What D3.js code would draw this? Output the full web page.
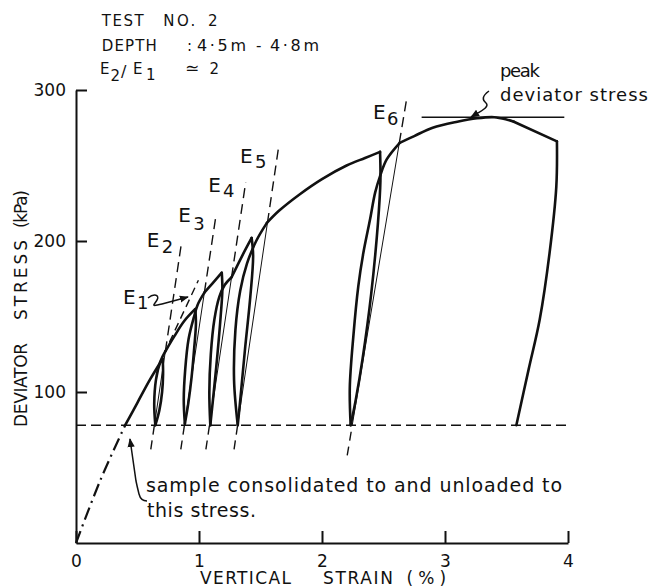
<!DOCTYPE html>
<html><head><meta charset="utf-8">
<script src="https://cdn.jsdelivr.net/npm/d3@7"></script>
<style>
body{margin:0;background:#fff}
svg{display:block}
text{font-family:"DejaVu Sans",sans-serif;fill:#111}
</style>
</head><body>
<svg id="c" width="651" height="587"></svg>
<script>
// ---------- data (strain %, deviator stress kPa) ----------
const xTicks=[0,1,2,3,4];
const yTicks=[100,200,300];
const consolidationStress=78;
const peakStress=282;
const peakLineRange=[2.81,3.97];
const initialCurve=[[0,0],[0.2,42],[0.40,78]];
const env0=[[0.40,78],[0.50,93],[0.60,108],[0.705,122]];
const unload1=[[0.705,122],[0.708,112],[0.70,100],[0.678,88],[0.645,78]];
const reload1=[[0.645,78],[0.636,92],[0.65,108],[0.685,120],[0.727,127]];
const env1=[[0.727,127],[0.80,137],[0.88,147],[0.97,155]];
const unload2=[[0.97,155],[0.975,145],[0.962,130],[0.94,110],[0.912,92],[0.885,79]];
const reload2=[[0.885,79],[0.876,95],[0.888,115],[0.915,135],[0.96,150],[0.99,158],[1.045,166]];
const env2=[[1.045,166],[1.11,172],[1.185,179]];
const unload3=[[1.185,179],[1.19,168],[1.176,150],[1.15,125],[1.12,100],[1.092,78]];
const reload3=[[1.092,78],[1.084,100],[1.096,125],[1.125,148],[1.165,163],[1.21,171],[1.265,176]];
const env3=[[1.265,176],[1.35,190],[1.428,202]];
const unload4=[[1.428,202],[1.44,190],[1.417,163],[1.376,130],[1.338,97],[1.315,78]];
const reload4=[[1.315,78],[1.285,108],[1.296,141],[1.335,167],[1.39,185],[1.465,200],[1.552,212]];
const env4=[[1.552,212],[1.65,220],[1.82,231],[2.0,241],[2.2,250],[2.35,255],[2.472,259]];
const unload5=[[2.472,259],[2.475,240],[2.455,212],[2.40,165],[2.33,122],[2.275,95],[2.233,78]];
const reload5=[[2.233,78],[2.226,103],[2.255,137],[2.295,170],[2.336,192],[2.39,214],[2.432,232],[2.472,243],[2.526,254],[2.632,265]];
const env5=[[2.632,265],[2.75,269.5],[2.90,275],[3.10,279],[3.26,281.3],[3.40,282],[3.50,280.5],[3.56,279]];
const env5b=[[3.56,279],[3.91,266]];
const finalUnload=[[3.91,266],[3.905,236],[3.85,192],[3.77,148],[3.68,115],[3.58,78]];
// secant (modulus) lines: bottom end, top end; loop bottom / rejoin stresses
const secantE1=[[0.76,133],[0.995,174]];
const secantE2=[[0.608,62],[0.858,199]];
const secantE3=[[0.852,62],[1.14,218]];
const secantE4=[[1.056,62],[1.38,239]];
const secantE5=[[1.285,62],[1.645,261]];
const secantE6=[[2.205,58],[2.69,295]];
const secantLoopStress=[[78,127],[79,166],[78,176],[78,212],[78,265]];

// ---------- drawing ----------
const svg=d3.select("#c");
const x=d3.scaleLinear().domain([0,4]).range([76,568]);
const y=d3.scaleLinear().domain([0,300]).range([543,90]);
const smooth=d3.line().x(d=>x(d[0])).y(d=>y(d[1])).curve(d3.curveCatmullRom.alpha(0.5));
const straight=d3.line().x(d=>x(d[0])).y(d=>y(d[1]));
const ink="#111";

// axes
const ax=svg.append("g").attr("transform","translate(0,543)")
  .call(d3.axisBottom(x).tickValues(xTicks).tickFormat(d3.format("d")).tickSize(-12).tickSizeOuter(0).tickPadding(12));
const ay=svg.append("g").attr("transform","translate(76,0)")
  .call(d3.axisLeft(y).tickValues(yTicks).tickSize(-11).tickSizeOuter(0).tickPadding(10));
[ax,ay].forEach(g=>{
  g.select(".domain").attr("stroke",ink).attr("stroke-width",2);
  g.selectAll(".tick line").attr("stroke",ink).attr("stroke-width",2);
  g.selectAll(".tick text").attr("font-family","DejaVu Sans").attr("font-size",17).attr("fill",ink);
});

// consolidation stress dashed line
svg.append("path").attr("d",straight([[0,consolidationStress],[3.99,consolidationStress]]))
  .attr("fill","none").attr("stroke",ink).attr("stroke-width",1.5).attr("stroke-dasharray","10,5");

// peak line
svg.append("path").attr("d",straight([[peakLineRange[0],peakStress],[peakLineRange[1],peakStress]]))
  .attr("fill","none").attr("stroke",ink).attr("stroke-width",1.4);

// initial dash-dot
svg.append("path").attr("d",smooth(initialCurve)).attr("fill","none").attr("stroke",ink)
  .attr("stroke-width",2.2).attr("stroke-dasharray","13,5,2,5");

// secant lines
function xAt(s,v){return s[0][0]+(v-s[0][1])*(s[1][0]-s[0][0])/(s[1][1]-s[0][1]);}
[secantE2,secantE3,secantE4,secantE5,secantE6].forEach((s,i)=>{
  const [b,r]=secantLoopStress[i];
  const pb=[xAt(s,b),b], pr=[xAt(s,r),r];
  svg.append("path").attr("d",straight([s[0],pb])).attr("fill","none").attr("stroke",ink)
    .attr("stroke-width",1.4).attr("stroke-dasharray","9,6");
  svg.append("path").attr("d",straight([pb,pr])).attr("fill","none").attr("stroke",ink)
    .attr("stroke-width",1);
  svg.append("path").attr("d",straight([pr,s[1]])).attr("fill","none").attr("stroke",ink)
    .attr("stroke-width",1.4).attr("stroke-dasharray","10,6");
});
svg.append("path").attr("d",straight(secantE1)).attr("fill","none").attr("stroke",ink)
  .attr("stroke-width",1.4).attr("stroke-dasharray","8,5");

// stress path
[env0,unload1,reload1,env1,unload2,reload2,env2,unload3,reload3,env3,unload4,reload4,env4,unload5,reload5,env5,env5b,finalUnload]
 .forEach(seg=>{
  svg.append("path").attr("d",(seg.length>2?smooth:straight)(seg)).attr("fill","none").attr("stroke",ink)
   .attr("stroke-width",2.6).attr("stroke-linecap","round").attr("stroke-linejoin","round");
 });

// arrow marker
svg.append("defs").append("marker").attr("id","ah").attr("viewBox","0 0 10 10").attr("refX",9).attr("refY",5)
  .attr("markerWidth",9).attr("markerHeight",9).attr("markerUnits","userSpaceOnUse").attr("orient","auto")
  .append("path").attr("d","M0,1 L10,5 L0,9 Z").attr("fill",ink);

function txt(xp,yp,s,size,len,opts={}){
  const t=svg.append("text").attr("x",xp).attr("y",yp).attr("font-size",size).text(s);
  if(len) t.attr("textLength",len).attr("lengthAdjust","spacing");
  if(opts.anchor) t.attr("text-anchor",opts.anchor);
  if(opts.transform) t.attr("transform",opts.transform);
  return t;
}
// header
txt(101.7,26,"TEST",15,42); txt(163.3,26,"NO.",15,32); txt(208,26,"2",15);
txt(101.7,50.7,"DEPTH",15,55); txt(187,50.7,":",15); txt(197,50.7,"4·5m",16,49); txt(256,50.7,"-",15); txt(270,50.7,"4·8m",16,49);
txt(100,74,"E",15); txt(110.5,81,"2",15); txt(121,77,"/",16); txt(133,74,"E",15); txt(146,80,"1",15);
txt(185,74,"≃",17); txt(209.5,74,"2",15);

// axis titles
txt(200,584,"VERTICAL",17,91); txt(323,584,"STRAIN",17,70); txt(406.6,584,"(%)",17,39.5);
txt(0,0,"DEVIATOR",17,84,{transform:"translate(27,427) rotate(-90)"});
txt(0,0,"STRESS",17,80,{transform:"translate(27,320) rotate(-90)"});
txt(0,0,"(kPa)",17,38,{transform:"translate(27,228) rotate(-90)"});

// E labels
const eLabels=[["1",123,304,137,309],["2",146.7,246.7,161.7,253],["3",178.3,221.7,193.3,230],
  ["4",208.3,191.7,223,196.7],["5",240,163,255,168],["6",373,119,387,125]];
eLabels.forEach(([n,ex,ey,sx,sy])=>{txt(ex,ey,"E",20); txt(sx,sy,n,18);});

// annotations
txt(146,491.7,"sample consolidated to and unloaded to",19,416);
txt(147,516.7,"this stress.",19,109);
txt(500,76.5,"peak",18,40);
txt(500,100.5,"deviator stress",18,148);

// annotation arrows
svg.append("path").attr("d","M147,501 C142,501 140,498 139,494 C138,490 137,486 136,481 L130,439")
  .attr("fill","none").attr("stroke",ink).attr("stroke-width",1.5).attr("marker-end","url(#ah)");
svg.append("path").attr("d","M489,91 C482,96 482,100 486,103 C490,107 481,111 471,117")
  .attr("fill","none").attr("stroke",ink).attr("stroke-width",1.5).attr("marker-end","url(#ah)");
svg.append("path").attr("d","M148,298 C154,293 160,295 157,300 C154,305 150,307 162,304 L188,297")
  .attr("fill","none").attr("stroke",ink).attr("stroke-width",1.5).attr("marker-end","url(#ah)");
</script>
</body></html>
